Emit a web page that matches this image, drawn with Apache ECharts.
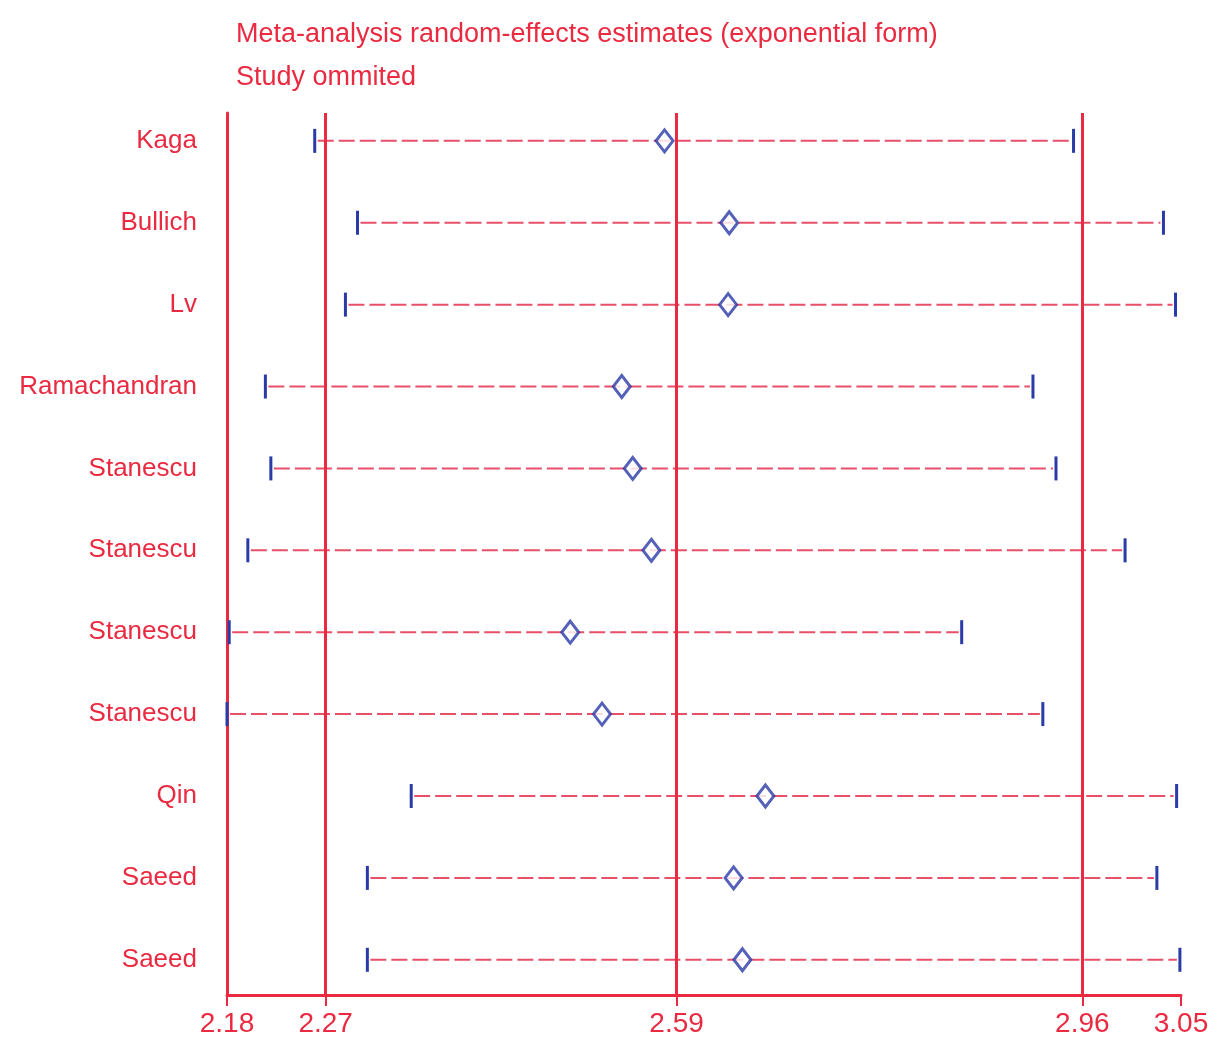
<!DOCTYPE html>
<html>
<head>
<meta charset="utf-8">
<style>
  html, body { margin: 0; padding: 0; background: #ffffff; }
  #chart { width: 1219px; height: 1044px; }
</style>
<script src="https://cdn.jsdelivr.net/npm/echarts@6/dist/echarts.min.js"></script>
</head>
<body>
<div id="chart"></div>
<script>
// Influence analysis: pooled estimate when each study is left out in turn
const studies = ['Kaga', 'Bullich', 'Lv', 'Ramachandran', 'Stanescu', 'Stanescu',
                 'Stanescu', 'Stanescu', 'Qin', 'Saeed', 'Saeed'];
const estimates = [2.579, 2.638, 2.637, 2.540, 2.550, 2.567, 2.493, 2.522, 2.671, 2.642, 2.650];
const lowerCI   = [2.260, 2.299, 2.288, 2.215, 2.220, 2.199, 2.182, 2.180, 2.348, 2.308, 2.308];
const upperCI   = [2.952, 3.034, 3.045, 2.915, 2.936, 2.999, 2.850, 2.924, 3.046, 3.028, 3.049];
const refLines  = [2.27, 2.59, 2.96];
const tickValues = [2.18, 2.27, 2.59, 2.96, 3.05];
const titleLines = ['Meta-analysis random-effects estimates (exponential form)', 'Study ommited'];

const RED = '#ea2a40';
const BLUE = '#2a3aa6';
const FONT = '"Liberation Sans", Arial, sans-serif';

const rows = studies.map((s, i) => i + 1);
const intervalData = rows.map((r, i) => [r, lowerCI[i], upperCI[i]]);
const pointData = rows.map((r, i) => [estimates[i], r]);

const chart = echarts.init(document.getElementById('chart'), null, { renderer: 'canvas' });

chart.setOption({
  backgroundColor: '#ffffff',
  animation: false,
  title: {
    text: titleLines.join('\n'),
    left: 231,
    top: 8,
    textStyle: { color: RED, fontFamily: FONT, fontSize: 27, fontWeight: 'normal', lineHeight: 43 }
  },
  grid: { left: 227, right: 38, top: 113, bottom: 49, containLabel: false },
  xAxis: {
    type: 'value',
    min: 2.18,
    max: 3.05,
    axisLine: { show: true, lineStyle: { color: RED, width: 3 } },
    axisTick: { show: true, customValues: tickValues, length: 11, lineStyle: { color: RED, width: 2 } },
    axisLabel: {
      customValues: tickValues,
      formatter: v => v.toFixed(2),
      color: RED, fontFamily: FONT, fontSize: 28, margin: 15
    },
    splitLine: { show: false }
  },
  yAxis: {
    type: 'value',
    inverse: true,
    min: 0.66,
    max: 11.43,
    axisLine: { show: true, onZero: false, lineStyle: { color: RED, width: 3 } },
    axisTick: { show: false },
    axisLabel: {
      customValues: rows,
      formatter: v => studies[Math.round(v) - 1] || '',
      color: RED, fontFamily: FONT, fontSize: 26, margin: 30
    },
    splitLine: { show: false }
  },
  series: [
    {
      // vertical reference lines
      type: 'line',
      data: [],
      markLine: {
        silent: true,
        symbol: ['none', 'none'],
        label: { show: false },
        lineStyle: { color: RED, width: 3, type: 'solid' },
        data: refLines.map(v => ({ xAxis: v }))
      }
    },
    {
      // confidence intervals: dotted span with blue end caps
      type: 'custom',
      data: intervalData,
      encode: { x: [1, 2], y: 0 },
      renderItem: function (params, api) {
        const y = api.value(0);
        const a = api.coord([api.value(1), y]);
        const b = api.coord([api.value(2), y]);
        const half = 12;
        return {
          type: 'group',
          children: [
            {
              type: 'line',
              shape: { x1: a[0] + 3, y1: a[1], x2: b[0] - 3, y2: b[1] },
              style: { stroke: '#e8506a', lineWidth: 2, lineDash: [16, 5] }
            },
            {
              type: 'line',
              shape: { x1: a[0], y1: a[1] - half, x2: a[0], y2: a[1] + half },
              style: { stroke: BLUE, lineWidth: 3 }
            },
            {
              type: 'line',
              shape: { x1: b[0], y1: b[1] - half, x2: b[0], y2: b[1] + half },
              style: { stroke: BLUE, lineWidth: 3 }
            }
          ]
        };
      },
      z: 3
    },
    {
      // point estimates
      type: 'scatter',
      data: pointData,
      symbol: 'diamond',
      symbolSize: [17, 22],
      itemStyle: { color: '#ffffff', borderColor: BLUE, borderWidth: 3 },
      z: 4
    }
  ]
});
</script>
</body>
</html>
